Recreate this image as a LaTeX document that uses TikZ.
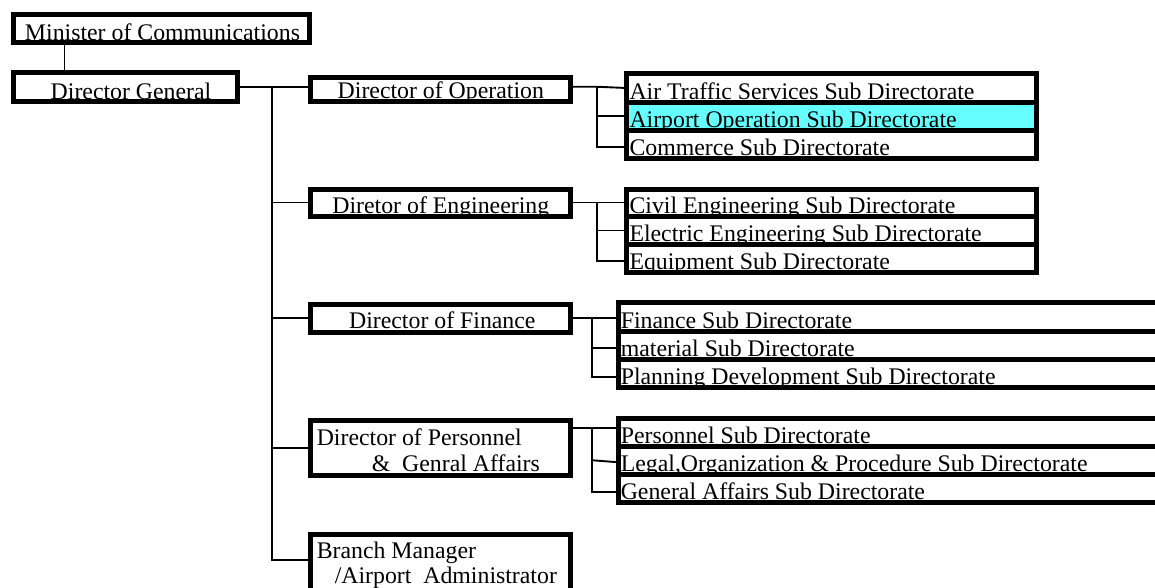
\documentclass[tikz,border=0pt]{standalone}
\usepackage{fontspec}
\setmainfont{Liberation Serif}
\definecolor{hilite}{RGB}{102,255,255}
\begin{document}
\begin{tikzpicture}[x=1pt,y=-1pt,
  box/.style={rectangle, anchor=north west, inner sep=0pt, outer sep=0pt, fill=white},
  border/.style={draw=black, line width=5pt},
  link/.style={draw=black, line width=1.9pt},
  lbl/.style={inner sep=0pt, outer sep=0pt, font=\fontsize{23.8}{28}\selectfont},
]
\useasboundingbox (0,0) rectangle (1155,587);
\clip (0,0) rectangle (1155,587);

% ---- box shapes (fills only; borders come last so they cover descenders)
\node[box, minimum width=296pt, minimum height=28.2pt] (min) at (13.5,14.3) {};
\node[box, minimum width=224pt, minimum height=28.5pt] (dg)  at (13.5,72.5) {};

\node[box, minimum width=260pt, minimum height=24.5pt] (dop) at (310.8,77.3) {};
\node[box, minimum width=260pt, minimum height=27pt]   (doe) at (310.8,189) {};
\node[box, minimum width=260pt, minimum height=28pt]   (dof) at (310.8,304) {};
\node[box, minimum width=260pt, minimum height=55pt]   (dpe) at (310.8,420.7) {};
\node[box, minimum width=260pt, minimum height=76pt]   (bm)  at (310.8,534) {};

\node[box, minimum width=410pt, minimum height=29pt] (ops1) at (626.5,73) {};
\node[box, minimum width=410pt, minimum height=28pt, fill=hilite] (ops2) at (626.5,102) {};
\node[box, minimum width=410pt, minimum height=28pt] (ops3) at (626.5,130) {};

\node[box, minimum width=410pt, minimum height=27.5pt] (eng1) at (626.5,189) {};
\node[box, minimum width=410pt, minimum height=28pt]   (eng2) at (626.5,216.5) {};
\node[box, minimum width=410pt, minimum height=28pt]   (eng3) at (626.5,244.5) {};

\node[box, minimum width=600pt, minimum height=28.5pt] (fin1) at (618.3,302.5) {};
\node[box, minimum width=600pt, minimum height=28.5pt] (fin2) at (618.3,331) {};
\node[box, minimum width=600pt, minimum height=28pt]   (fin3) at (618.3,359.5) {};

\node[box, minimum width=600pt, minimum height=28pt]   (per1) at (618.3,418) {};
\node[box, minimum width=600pt, minimum height=28.5pt] (per2) at (618.3,446) {};
\node[box, minimum width=600pt, minimum height=27.5pt] (per3) at (618.3,474.5) {};

% ---- labels
\node[lbl, anchor=base] at ([xshift=1pt,yshift=2.5pt]min.south) {Minister of Communications};
\node[lbl, anchor=base] at ([xshift=5.5pt,yshift=2pt]dg.south) {Director General};
\node[lbl, anchor=base] at ([yshift=3.5pt]dop.south) {Director of Operation};
\node[lbl, anchor=base] at ([yshift=3pt]doe.south) {Diretor of Engineering};
\node[lbl, anchor=base] at ([xshift=1.5pt,yshift=3.5pt]dof.south) {Director of Finance};
\node[lbl, anchor=base west] at ([xshift=6pt,yshift=-24.3pt]dpe.north west) {Director of Personnel};
\node[lbl, anchor=base west] at ([xshift=61pt,yshift=-51pt]dpe.north west) {\&\ \ Genral Affairs};
\node[lbl, anchor=base west] at ([xshift=6pt,yshift=-24pt]bm.north west) {Branch Manager};
\node[lbl, anchor=base west] at ([xshift=24pt,yshift=-49pt]bm.north west) {/Airport\ \ Administrator};

\node[lbl, anchor=base west] at ([xshift=3pt,yshift=3pt]ops1.south west) {Air Traffic Services Sub Directorate};
\node[lbl, anchor=base west] at ([xshift=3pt,yshift=3pt]ops2.south west) {Airport Operation Sub Directorate};
\node[lbl, anchor=base west] at ([xshift=3pt,yshift=3pt]ops3.south west) {Commerce Sub Directorate};
\node[lbl, anchor=base west] at ([xshift=3pt,yshift=3pt]eng1.south west) {Civil Engineering Sub Directorate};
\node[lbl, anchor=base west] at ([xshift=3pt,yshift=3pt]eng2.south west) {Electric Engineering Sub Directorate};
\node[lbl, anchor=base west] at ([xshift=3pt,yshift=3pt]eng3.south west) {Equipment Sub Directorate};
\node[lbl, anchor=base west] at ([xshift=2.5pt,yshift=3pt]fin1.south west) {Finance Sub Directorate};
\node[lbl, anchor=base west] at ([xshift=2.5pt,yshift=3pt]fin2.south west) {material Sub Directorate};
\node[lbl, anchor=base west] at ([xshift=2.5pt,yshift=3pt]fin3.south west) {Planning Development Sub Directorate};
\node[lbl, anchor=base west] at ([xshift=2.5pt,yshift=3pt]per1.south west) {Personnel Sub Directorate};
\node[lbl, anchor=base west] at ([xshift=2.5pt,yshift=3pt]per2.south west) {Legal,Organization \& Procedure Sub Directorate};
\node[lbl, anchor=base west] at ([xshift=2.5pt,yshift=3pt]per3.south west) {General Affairs Sub Directorate};

% ---- borders
\foreach \n in {min,dg,dop,doe,dof,dpe,bm,ops1,ops2,ops3,eng1,eng2,eng3,fin1,fin2,fin3,per1,per2,per3}
  \draw[border] (\n.north west) rectangle (\n.south east);

% ---- connectors
\coordinate (mc) at (64.5,0);
\draw[link] (min.south -| mc) -- (dg.north -| mc);

% main trunk
\coordinate (tj) at (272,0);
\coordinate (tb) at (272,560);
\draw[link] (dg.east) -- (dop.west |- dg.east);
\draw[link] (tj |- dg.east) -- (tb) -- (bm.west |- tb);
\draw[link] (tj |- doe.west) -- (doe.west);
\draw[link] (tj |- dof.west) -- (dof.west);
\draw[link] (tj |- dpe.west) -- (dpe.west);

% operation
\coordinate (oj) at (597,0);
\coordinate (o3) at ([yshift=-3pt]ops3.west);
\draw[link] (dop.east |- dg.east) -- (oj |- dg.east) -- ([yshift=-0.5pt]ops1.west);
\draw[link] (oj |- dg.east) -- (oj |- o3) -- (o3);
\draw[link] (oj |- ops2.west) -- (ops2.west);

% engineering
\coordinate (ej) at (597,0);
\coordinate (e3) at ([yshift=-2.5pt]eng3.west);
\draw[link] (doe.east) -- (eng1.west |- doe.east);
\draw[link] (ej |- doe.east) -- (ej |- e3) -- (e3);
\draw[link] (ej |- eng2.west) -- (eng2.west);

% finance
\coordinate (fj) at (592,0);
\coordinate (f2) at ([yshift=-3pt]fin2.west);
\coordinate (f3) at ([yshift=-3.5pt]fin3.west);
\draw[link] (dof.east) -- (fin1.west |- dof.east);
\draw[link] (fj |- dof.east) -- (fj |- f3) -- (f3);
\draw[link] (fj |- f2) -- (f2);

% personnel
\coordinate (pj) at (592,428);
\coordinate (p2) at ([yshift=-2pt]per2.west);
\coordinate (p3) at ([yshift=-4pt]per3.west);
\draw[link] (dpe.east |- pj) -- (per1.west |- pj);
\draw[link] (pj) -- (pj |- p3) -- (p3);
\draw[link] (pj |- per2.west) -- (p2);
\end{tikzpicture}
\end{document}
